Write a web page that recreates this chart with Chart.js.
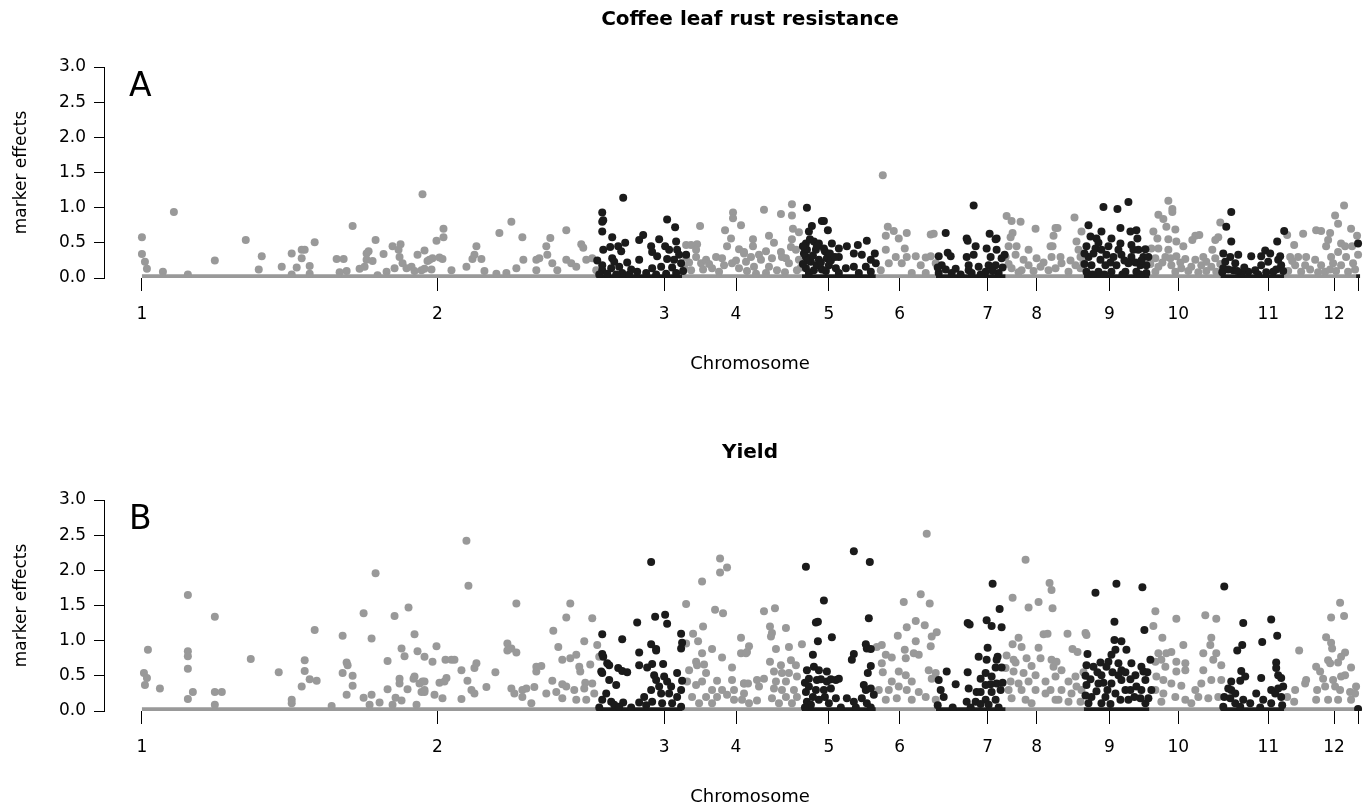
<!DOCTYPE html>
<html>
<head>
<meta charset="utf-8">
<script src="https://cdn.jsdelivr.net/npm/chart.js@4.4.1/dist/chart.umd.min.js"></script>
<style>
  html, body { margin:0; padding:0; background:#fff; overflow:hidden; width:1372px; height:805px; }
  canvas { position:absolute; left:0; }
  #cA { top:0; }
  #cB { top:433px; }
</style>
</head>
<body>
<canvas id="cA" width="1400" height="433"></canvas>
<canvas id="cB" width="1400" height="372"></canvas>
<script>
// ---------- chromosome axis ----------
const chromTickPos = [0, 296, 523, 595, 688, 759, 847, 896, 969, 1038, 1128, 1194, 1218];
const chromLabels  = ['1','2','3','4','5','6','7','8','9','10','11','12',''];
// alternating colour bands along the genome (gray, black, gray, ...)
const bandEdges = [0, 455, 541, 661, 735, 795, 865, 943, 1009, 1080, 1144, 1216, 1220];

// ---------- Panel A: Coffee leaf rust resistance ----------
const rustGray = [
[0,0.58],[0,0.34],[3,0.23],[5,0.13],[32,0.94],[21,0.09],[46,0.05],[73,0.25],[104,0.54],[120,0.31],[117,0.12],[140,0.16],[150,0.35],[160,0.40],[163,0.40],[160,0.28],[155,0.15],[168,0.17],[173,0.51],[150,0.05],[168,0.06],[195,0.27],[202,0.27],[211,0.74],[205,0.10],[198,0.08],[218,0.13],[225,0.35],[227,0.38],[225,0.26],[231,0.24],[223,0.16],[234,0.54],[242,0.34],[251,0.45],[259,0.48],[257,0.40],[258,0.30],[261,0.21],[265,0.14],[270,0.16],[253,0.14],[245,0.09],[281,1.19],[276,0.33],[283,0.39],[286,0.24],[280,0.11],[273,0.10],[236,0.04],
[302,0.70],[302,0.58],[295,0.53],[291,0.28],[298,0.29],[301,0.27],[288,0.26],[283,0.13],[290,0.12],[310,0.11],[325,0.16],[335,0.45],[331,0.27],[340,0.27],[333,0.33],[343,0.10],[355,0.06],[358,0.64],[370,0.80],[381,0.58],[375,0.14],[382,0.26],[395,0.26],[398,0.28],[405,0.45],[409,0.57],[406,0.33],[411,0.21],[425,0.68],[425,0.26],[430,0.21],[440,0.48],[442,0.43],[435,0.16],[445,0.26],[451,0.28],[455,0.11],[416,0.11],[395,0.11],[365,0.07],
[559,0.74],[545,0.47],[550,0.47],[556,0.48],[555,0.40],[555,0.30],[545,0.30],[560,0.21],[565,0.26],[575,0.30],[581,0.28],[592,0.93],[592,0.85],[600,0.75],[584,0.68],[590,0.56],[586,0.45],[598,0.41],[603,0.35],[591,0.21],[571,0.14],[598,0.14],[550,0.11],[578,0.09],
[543,0.15],[548,0.22],[562,0.12],[568,0.20],[583,0.18],[595,0.25],[606,0.10],[615,0.06],[625,0.07],[644,0.08],[660,0.15],[610,0.30],[625,0.38],[645,0.28],
[623,0.97],[640,0.91],[651,1.05],[651,0.89],[652,0.70],[658,0.65],[612,0.55],[628,0.60],[633,0.50],[651,0.55],[612,0.45],[603,0.37],[618,0.33],[640,0.37],[650,0.44],[655,0.40],[631,0.28],[641,0.30],[605,0.23],[620,0.26],[613,0.16],[628,0.16],[648,0.21],[658,0.26],[636,0.11],[656,0.11],
[742,1.46],[747,0.73],[753,0.67],[766,0.64],[745,0.60],[758,0.56],[764,0.42],[745,0.40],[766,0.30],[775,0.31],[755,0.30],[748,0.21],[761,0.21],[790,0.62],[793,0.63],[785,0.29],[790,0.31],[780,0.18],[795,0.21],[740,0.11],[771,0.07],[785,0.07],
[866,0.88],[871,0.81],[880,0.80],[872,0.64],[870,0.58],[895,0.70],[915,0.71],[913,0.60],[910,0.45],[911,0.30],[868,0.45],[876,0.45],[888,0.40],[865,0.30],[875,0.33],[883,0.26],[896,0.28],[888,0.18],[900,0.16],[871,0.14],[881,0.11],[908,0.11],
[868,0.20],[878,0.08],[893,0.10],[903,0.22],[920,0.30],[930,0.25],[943,0.22],
[917,0.71],[934,0.86],[941,0.66],[912,0.45],[936,0.52],[938,0.40],[940,0.30],[921,0.21],[935,0.18],[915,0.14],[940,0.14],[928,0.09],
[1028,1.10],[1032,0.98],[1032,0.94],[1018,0.90],[1023,0.84],[1013,0.66],[1026,0.73],[1035,0.69],[1017,0.56],[1028,0.55],[1036,0.52],[1043,0.45],[1055,0.60],[1059,0.61],[1052,0.54],[1080,0.79],[1078,0.58],[1075,0.54],[1072,0.40],[1011,0.42],[1018,0.42],[1028,0.40],[1015,0.28],[1025,0.30],[1036,0.31],[1045,0.27],[1055,0.26],[1063,0.30],[1075,0.28],[1018,0.16],[1031,0.18],[1041,0.14],[1051,0.16],[1061,0.18],[1071,0.16],[1015,0.09],[1035,0.09],[1058,0.08],[1076,0.09],
[1010,0.20],[1022,0.22],[1030,0.28],[1040,0.22],[1048,0.10],[1066,0.10],[1080,0.20],[1066,0.23],
[1147,0.61],[1154,0.47],[1163,0.63],[1176,0.68],[1181,0.67],[1190,0.64],[1204,1.03],[1195,0.89],[1198,0.77],[1211,0.70],[1217,0.60],[1201,0.49],[1205,0.45],[1186,0.45],[1188,0.54],[1212,0.45],[1218,0.33],[1150,0.30],[1158,0.30],[1166,0.30],[1175,0.26],[1191,0.30],[1198,0.37],[1206,0.30],[1155,0.18],[1165,0.18],[1181,0.18],[1193,0.21],[1201,0.18],[1213,0.21],[1161,0.09],[1185,0.09],[1208,0.09],
[1148,0.10],[1152,0.24],[1170,0.12],[1178,0.08],[1190,0.12],[1196,0.10],[1215,0.12]
];
const rustBlack = [
[461,0.93],[461,0.80],[462,0.82],[461,0.66],[482,1.14],[471,0.58],[462,0.40],[469,0.44],[477,0.45],[484,0.50],[480,0.38],[471,0.28],[473,0.23],[486,0.22],[498,0.54],[502,0.61],[498,0.26],[510,0.45],[511,0.37],[518,0.55],[516,0.31],[526,0.83],[534,0.72],[524,0.45],[528,0.40],[535,0.52],[536,0.40],[526,0.27],[533,0.26],[538,0.33],[461,0.18],[461,0.11],[470,0.14],[478,0.16],[496,0.09],[511,0.14],[520,0.16],[531,0.15],[540,0.21],[481,0.07],[505,0.07],
[458,0.05],[466,0.06],[475,0.05],[488,0.05],[515,0.05],[525,0.06],[535,0.07],[542,0.10],[456,0.25],[490,0.12],[545,0.33],
[666,1.00],[681,0.81],[683,0.81],[671,0.74],[668,0.66],[687,0.68],[665,0.49],[673,0.52],[678,0.49],[666,0.40],[675,0.40],[691,0.49],[698,0.42],[706,0.45],[717,0.47],[726,0.53],[698,0.30],[713,0.35],[721,0.33],[734,0.35],[730,0.26],[665,0.30],[670,0.23],[678,0.26],[688,0.18],[695,0.14],[705,0.14],[713,0.16],[725,0.16],[735,0.21],[665,0.14],[673,0.11],[681,0.12],[698,0.07],[718,0.07],[730,0.09],[668,0.07],[676,0.18],[663,0.35],[667,0.25],[672,0.32],[684,0.38],[680,0.22],[664,0.42],[686,0.28],
[662,0.45],[669,0.55],[676,0.45],[683,0.42],[689,0.35],[662,0.20],[685,0.10],[690,0.25],[694,0.30],
[805,0.64],[833,1.03],[826,0.56],[827,0.53],[835,0.45],[849,0.63],[856,0.56],[855,0.55],[798,0.31],[807,0.36],[810,0.31],[801,0.18],[815,0.13],[826,0.30],[833,0.33],[846,0.42],[856,0.40],[850,0.30],[861,0.28],[828,0.18],[838,0.16],[848,0.18],[855,0.18],[828,0.11],[798,0.07],[811,0.07],[831,0.07],[845,0.09],[858,0.07],
[797,0.15],[805,0.12],[820,0.05],[840,0.05],[852,0.10],[862,0.15],[864,0.33],
[963,1.01],[977,0.98],[988,1.08],[948,0.75],[980,0.71],[996,0.68],[961,0.66],[990,0.66],[950,0.59],[971,0.56],[956,0.56],[997,0.56],[980,0.49],[991,0.47],[1005,0.41],[946,0.45],[955,0.42],[961,0.40],[968,0.45],[998,0.40],[948,0.30],[960,0.26],[973,0.30],[981,0.33],[991,0.30],[1003,0.30],[951,0.18],[965,0.18],[976,0.18],[988,0.21],[1000,0.18],[1006,0.18],[946,0.09],[958,0.09],[971,0.09],[985,0.09],[996,0.09],[1006,0.07],
[944,0.35],[944,0.20],[953,0.35],[958,0.50],[966,0.33],[970,0.22],[978,0.40],[984,0.25],[993,0.40],[995,0.22],[1001,0.25],[1008,0.30],[952,0.05],[964,0.05],[982,0.05],[1000,0.05],
[1091,0.94],[1086,0.73],[1091,0.52],[1083,0.35],[1090,0.30],[1098,0.33],[1085,0.23],[1095,0.21],[1083,0.14],[1093,0.11],[1111,0.31],[1121,0.31],[1125,0.39],[1130,0.35],[1138,0.26],[1140,0.31],[1144,0.67],[1137,0.52],[1128,0.23],[1141,0.18],[1121,0.18],[1108,0.09],[1115,0.11],[1101,0.07],[1133,0.09],
[1082,0.08],[1088,0.12],[1097,0.10],[1104,0.15],[1118,0.05],[1126,0.08],[1136,0.12],[1143,0.10],
[1218,0.49]
];

// ---------- Panel B: Yield ----------
const yieldGray = [
[6,0.87],[2,0.54],[5,0.47],[3,0.37],[18,0.32],[46,1.65],[46,0.85],[46,0.78],[46,0.60],[51,0.27],[46,0.17],[73,1.34],[73,0.27],[80,0.27],[73,0.09],[109,0.74],[137,0.55],[150,0.16],[150,0.11],[160,0.35],[163,0.57],[163,0.72],[168,0.45],[175,0.43],[173,1.15],[190,0.07],[201,1.07],[205,0.69],[206,0.65],[201,0.54],[211,0.50],[211,0.36],[205,0.23],[222,0.19],[230,0.23],[222,1.39],[230,1.03],[234,1.96],[238,0.12],[246,0.71],[253,1.35],[246,0.31],[254,0.19],[258,0.46],[258,0.39],[260,0.89],[263,0.78],[267,1.47],[266,0.31],[260,0.15],[273,1.09],[276,0.85],[273,0.49],[272,0.46],[283,0.77],[281,0.42],[283,0.30],[280,0.27],[251,0.09],[228,0.09],[275,0.09],
[295,0.92],[291,0.70],[304,0.73],[310,0.73],[313,0.73],[278,0.39],[283,0.42],[298,0.40],[305,0.47],[303,0.42],[283,0.27],[293,0.23],[301,0.18],[320,0.58],[326,0.43],[333,0.61],[335,0.68],[330,0.30],[333,0.25],[345,0.34],[320,0.17],[354,0.55],[325,2.42],[327,1.78],[366,0.96],[370,0.89],[366,0.86],[375,0.83],[375,1.53],[370,0.32],[373,0.25],[381,0.30],[385,0.32],[381,0.20],[393,0.34],[395,0.56],[395,0.63],[400,0.64],[390,0.11],[405,0.25],[411,0.43],[415,0.27],[421,0.38],[412,1.14],[417,0.91],[425,1.33],[429,1.53],[421,0.73],[429,0.75],[435,0.80],[425,0.35],[433,0.30],[438,0.63],[439,0.56],[443,0.99],[451,1.32],[449,0.66],[456,0.94],[458,0.77],[444,0.40],[443,0.32],[451,0.39],[453,0.25],[435,0.16],[421,0.18],[445,0.16],
[545,1.52],[545,0.96],[552,1.10],[557,0.99],[561,1.84],[562,1.20],[561,0.82],[571,0.88],[574,1.44],[582,1.39],[579,2.17],[579,1.97],[586,2.04],[581,0.76],[591,0.62],[600,1.04],[600,0.82],[606,0.84],[555,0.70],[556,0.65],[563,0.66],[565,0.54],[548,0.58],[546,0.42],[555,0.37],[561,0.42],[576,0.43],[591,0.44],[603,0.39],[571,0.30],[581,0.30],[593,0.30],[551,0.20],[565,0.20],[576,0.20],[586,0.23],[593,0.16],[601,0.16],[558,0.11],[571,0.11],
[608,0.92],[605,0.82],[623,1.42],[634,1.46],[645,1.18],[629,1.20],[631,1.11],[630,1.06],[635,0.88],[648,0.91],[661,0.95],[629,0.70],[640,0.65],[650,0.72],[655,0.65],[633,0.56],[641,0.54],[648,0.54],[656,0.49],[603,0.39],[607,0.39],[616,0.44],[623,0.46],[635,0.42],[645,0.42],[618,0.35],[633,0.32],[641,0.30],[653,0.30],[603,0.25],[616,0.15],[631,0.18],[645,0.20],[656,0.20],[608,0.11],[638,0.11],[651,0.11],
[786,2.52],[780,1.66],[763,1.55],[789,1.53],[775,1.28],[766,1.19],[784,1.22],[757,1.07],[775,0.99],[791,1.06],[796,1.12],[790,0.92],[736,0.91],[741,0.94],[745,0.80],[751,0.76],[764,0.87],[765,0.75],[773,0.82],[778,0.80],[741,0.68],[758,0.56],[765,0.51],[742,0.55],[751,0.42],[771,0.42],[788,0.58],[791,0.46],[795,0.54],[738,0.30],[748,0.30],[758,0.35],[766,0.30],[778,0.27],[745,0.16],[756,0.18],[771,0.16],[785,0.20],[795,0.16],
[885,2.15],[872,1.61],[888,1.47],[898,1.55],[909,1.82],[911,1.72],[912,1.46],[878,1.04],[872,0.95],[881,0.91],[898,0.90],[903,1.09],[907,1.10],[866,0.79],[873,0.73],[875,0.69],[886,0.75],[900,0.75],[911,0.73],[891,0.64],[865,0.61],[873,0.56],[883,0.54],[895,0.51],[913,0.63],[915,0.49],[870,0.42],[878,0.39],[888,0.42],[905,0.42],[868,0.30],[881,0.30],[895,0.30],[910,0.30],[871,0.18],[885,0.16],[905,0.25],[915,0.16],[891,0.11],
[927,1.10],[945,1.11],[946,1.08],[932,0.88],[937,0.84],[916,0.70],[921,0.58],[935,0.49],[943,0.55],[928,0.42],[936,0.35],[921,0.30],[931,0.25],[941,0.30],[918,0.16],[928,0.13],[940,0.13],
[1015,1.42],[1013,1.21],[1022,1.04],[1036,1.31],[1043,0.94],[1065,1.36],[1076,1.31],[1071,1.04],[1070,0.94],[1076,0.82],[1015,0.70],[1018,0.82],[1026,0.82],[1031,0.84],[1021,0.73],[1025,0.63],[1036,0.70],[1036,0.56],[1045,0.68],[1045,0.58],[1063,0.82],[1063,0.58],[1073,0.73],[1081,0.65],[1016,0.49],[1023,0.44],[1031,0.39],[1041,0.36],[1055,0.30],[1061,0.39],[1071,0.44],[1081,0.44],[1015,0.30],[1023,0.25],[1035,0.20],[1045,0.16],[1058,0.20],[1068,0.18],[1078,0.20],[1021,0.13],[1051,0.11],
[1147,0.20],[1155,0.30],[1154,0.13],[1159,0.86],[1165,0.39],[1166,0.44],[1200,1.54],[1191,1.33],[1204,1.35],[1186,1.05],[1191,0.97],[1192,0.89],[1205,0.83],[1201,0.77],[1211,0.62],[1188,0.72],[1190,0.68],[1198,0.69],[1176,0.63],[1180,0.56],[1183,0.46],[1193,0.44],[1201,0.49],[1205,0.51],[1177,0.30],[1185,0.35],[1195,0.35],[1200,0.30],[1210,0.27],[1216,0.35],[1215,0.25],[1176,0.16],[1188,0.16],[1198,0.16],[1211,0.16]
];
const yieldBlack = [
[461,1.09],[461,0.81],[462,0.77],[460,0.56],[461,0.54],[466,0.68],[468,0.65],[468,0.44],[475,0.37],[477,0.61],[481,0.57],[486,0.55],[481,1.02],[496,1.26],[498,0.83],[498,0.65],[510,2.12],[514,1.34],[524,1.37],[526,1.24],[510,0.95],[515,0.88],[515,0.86],[506,0.62],[511,0.67],[522,0.67],[513,0.51],[515,0.44],[523,0.49],[526,0.42],[536,0.54],[540,1.10],[540,0.89],[541,0.97],[541,0.43],[540,0.30],[510,0.30],[518,0.35],[528,0.25],[503,0.20],[498,0.12],[482,0.12],[461,0.16],[470,0.13],[511,0.13],[521,0.11],[531,0.11],[473,0.09],
[458,0.05],[465,0.25],[478,0.06],[490,0.05],[505,0.08],[520,0.25],[530,0.35],[536,0.20],[540,0.06],
[665,2.05],[713,2.27],[729,2.12],[683,1.57],[675,1.26],[677,1.27],[691,1.05],[677,0.99],[672,0.80],[728,1.32],[725,0.95],[726,0.89],[730,0.88],[713,0.81],[711,0.73],[730,0.64],[727,0.54],[666,0.58],[673,0.63],[678,0.58],[686,0.56],[695,0.44],[698,0.46],[668,0.46],[676,0.44],[686,0.42],[665,0.27],[675,0.30],[683,0.30],[690,0.32],[695,0.18],[706,0.18],[713,0.13],[723,0.37],[725,0.30],[730,0.32],[733,0.23],[721,0.18],[666,0.13],[678,0.16],[688,0.11],[726,0.11],[670,0.09],
[664,0.40],[668,0.35],[672,0.20],[680,0.45],[684,0.20],[690,0.45],[664,0.05],[700,0.05],[715,0.05],[730,0.05],
[806,0.56],[815,0.38],[798,0.44],[800,0.30],[803,0.20],[827,0.55],[828,0.32],[836,0.27],[835,0.13],[826,0.13],[827,1.25],[829,1.23],[846,1.29],[851,1.21],[861,1.19],[852,1.81],[859,1.45],[847,0.90],[838,0.77],[846,0.73],[857,0.77],[856,0.73],[855,0.62],[861,0.62],[845,0.54],[840,0.46],[851,0.49],[856,0.39],[845,0.37],[840,0.27],[851,0.27],[860,0.30],[845,0.16],[855,0.16],[848,0.09],
[797,0.08],[812,0.05],[830,0.05],[840,0.10],[850,0.38],[858,0.05],[862,0.40],
[955,1.68],[976,1.81],[1002,1.76],[974,1.27],[1004,1.15],[974,1.01],[981,0.99],[986,0.87],[975,0.87],[971,0.80],[947,0.81],[1010,0.73],[968,0.70],[991,0.68],[1001,0.63],[946,0.65],[953,0.63],[960,0.69],[966,0.63],[978,0.68],[981,0.58],[1003,0.56],[961,0.51],[978,0.51],[995,0.51],[946,0.37],[958,0.39],[971,0.39],[981,0.44],[990,0.30],[1005,0.44],[1001,0.30],[951,0.20],[965,0.20],[975,0.25],[988,0.16],[1000,0.18],[1011,0.30],[948,0.11],[961,0.11],[980,0.16],[1005,0.11],
[945,0.50],[950,0.45],[957,0.55],[963,0.40],[967,0.30],[972,0.55],[985,0.55],[990,0.45],[996,0.35],[1007,0.55],[945,0.22],[956,0.28],[970,0.10],[985,0.30],[994,0.20],[1008,0.18],
[1084,1.77],[1103,1.25],[1131,1.30],[1137,1.07],[1122,0.98],[1102,0.94],[1097,0.86],[1101,0.57],[1105,0.49],[1100,0.43],[1121,0.47],[1136,0.69],[1136,0.61],[1138,0.51],[1141,0.47],[1143,0.35],[1091,0.42],[1091,0.30],[1084,0.20],[1090,0.18],[1116,0.25],[1123,0.16],[1131,0.30],[1135,0.25],[1141,0.20],[1103,0.16],[1110,0.11],[1095,0.11],[1131,0.11],
[1083,0.06],[1088,0.32],[1095,0.25],[1100,0.06],[1120,0.05],[1138,0.32],[1142,0.08],
[1218,0.03]
];

// ---------- rendering ----------
const FONT = '"DejaVu Sans", "Liberation Sans", Arial, sans-serif';
const GRAY = '#999999';
const BLACK = '#1b1b1b';

const panelText = {
  id: 'panelText',
  afterDraw(chart, args, o) {
    const ctx = chart.ctx, a = chart.chartArea;
    const cx = (a.left + a.right) / 2;
    ctx.save();
    ctx.fillStyle = '#000';
    ctx.textAlign = 'center';
    ctx.textBaseline = 'middle';
    ctx.font = 'bold 20px ' + FONT;
    ctx.fillText(o.title, cx, 20);
    ctx.font = '18px ' + FONT;
    ctx.fillText('Chromosome', cx, a.bottom + 86);
    ctx.textAlign = 'left';
    ctx.textBaseline = 'alphabetic';
    ctx.font = '33px ' + FONT;
    ctx.fillText(o.letter, 129, a.top + 29);
    ctx.translate(22, (a.top + a.bottom) / 2);
    ctx.rotate(-Math.PI / 2);
    ctx.textAlign = 'center';
    ctx.textBaseline = 'middle';
    ctx.font = '17px ' + FONT;
    ctx.fillText('marker effects', 0, 0);
    ctx.restore();
  }
};

function toXY(arr) { return arr.map(p => ({ x: p[0], y: p[1] })); }

function baselineSets() {
  const sets = [];
  for (let i = 0; i < bandEdges.length - 1; i++) {
    sets.push({
      type: 'line', showLine: true,
      data: [{ x: bandEdges[i], y: 0.025 }, { x: bandEdges[i + 1], y: 0.025 }],
      borderColor: i % 2 === 0 ? GRAY : BLACK,
      borderWidth: 4, pointRadius: 0, fill: false
    });
  }
  return sets;
}

function makePanel(canvasId, title, letter, grayPts, blackPts) {
  const canvas = document.getElementById(canvasId);
  const H = canvas.height;
  return new Chart(canvas, {
    type: 'scatter',
    data: {
      datasets: [
        { data: toXY(blackPts), backgroundColor: BLACK, borderWidth: 0, pointRadius: 4 },
        { data: toXY(grayPts), backgroundColor: GRAY, borderWidth: 0, pointRadius: 4 },
        ...baselineSets()
      ]
    },
    options: {
      responsive: false, animation: false, devicePixelRatio: 1,
      layout: { padding: { top: 67, right: 2, left: 0, bottom: 0 } },
      plugins: { legend: { display: false }, tooltip: { enabled: false }, panelText: { title, letter } },
      scales: {
        x: {
          type: 'linear', min: -38, max: 1256,
          afterFit(s) { s.height = H - 278; },
          afterBuildTicks(s) { s.ticks = chromTickPos.map(v => ({ value: v })); },
          border: { display: false },
          grid: { display: true, drawOnChartArea: false, drawTicks: true, tickLength: 13, color: '#000', lineWidth: 1 },
          ticks: { autoSkip: false, maxRotation: 0, minRotation: 0, padding: 13, color: '#000',
                   font: { size: 17, family: FONT }, callback: (v, i) => chromLabels[i] }
        },
        y: {
          min: 0, max: 3,
          afterFit(s) { s.width = 104; },
          border: { display: true, color: '#000', width: 1 },
          grid: { display: true, drawOnChartArea: false, drawTicks: true, tickLength: 10, color: '#000', lineWidth: 1 },
          ticks: { stepSize: 0.5, padding: 8, color: '#000', font: { size: 17, family: FONT },
                   callback: v => Number(v).toFixed(1) }
        }
      }
    },
    plugins: [panelText]
  });
}

makePanel('cA', 'Coffee leaf rust resistance', 'A', rustGray, rustBlack);
makePanel('cB', 'Yield', 'B', yieldGray, yieldBlack);
</script>
</body>
</html>
